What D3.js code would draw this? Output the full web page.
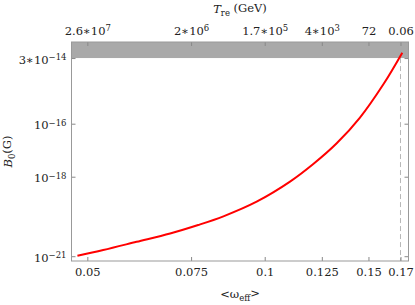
<!DOCTYPE html>
<html>
<head>
<meta charset="utf-8">
<script src="https://cdn.jsdelivr.net/npm/d3@7"></script>
<style>
  body { margin: 0; background: #fff; }
  svg text { font-family: "DejaVu Serif", serif; fill: #222; }
</style>
</head>
<body>
<div id="chart"></div>
<script>
// curve: <omega_eff> and B0 (Gauss)
var omega = [0.0481, 0.0532, 0.0606, 0.0691, 0.0771, 0.0851, 0.0969, 0.1104, 0.1209, 0.1325, 0.1451, 0.1589, 0.1712];
var bField = [1.05e-21, 1.72e-21, 3.5e-21, 7.2e-21, 1.5e-20, 3.2e-20, 1.14e-19, 6.5e-19, 3.0e-18, 1.82e-17, 1.7e-16, 3.0e-15, 4.8e-14];

// bottom axis
var omegaTicks = [0.05, 0.075, 0.1, 0.125, 0.15, 0.17];
var omegaLabels = ["0.05", "0.075", "0.1", "0.125", "0.15", "0.17"];

// top axis (reheating temperature at the same positions)
var treMantissa = ["2.6", "2", "1.7", "4", "72", "0.06"];
var treExponent = ["7", "6", "5", "3", "", ""];

// left axis
var bTicks = [3e-14, 1e-16, 1e-18, 1e-21];
var bMantissa = ["3", "", "", ""];
var bExponent = ["\u221214", "\u221216", "\u221218", "\u221221"];

var bBound = 3e-14;      // excluded region above this
var omegaMax = 0.17;     // dashed line

var margin = {top: 42, right: 6.5, bottom: 44, left: 71.5};
var width = 415 - margin.left - margin.right;
var height = 305 - margin.top - margin.bottom;

var svg = d3.select("#chart").append("svg")
    .attr("width", 415)
    .attr("height", 305)
  .append("g")
    .attr("transform", "translate(" + margin.left + "," + margin.top + ")");

var x = d3.scaleLog()
    .domain([0.0470, 0.1754])
    .range([0, width]);
var y = d3.scaleLog()
    .domain([6.6e-22, 1.21e-13])
    .range([height, 0]);

// shaded region
svg.append("rect")
    .attr("x", 0)
    .attr("y", 0)
    .attr("width", width)
    .attr("height", y(bBound))
    .attr("fill", "#a9a9a9");

// dashed line at omega max
svg.append("line")
    .attr("x1", x(omegaMax)).attr("x2", x(omegaMax))
    .attr("y1", y(bBound)).attr("y2", height)
    .attr("stroke", "#b8b8b8")
    .attr("stroke-width", 1)
    .attr("stroke-dasharray", "5,3");

// helper to write  mantissa*10^exp
function sciLabel(sel, mant, exp) {
  sel.each(function(d, i) {
    var t = d3.select(this).text(null);
    if (exp[i] === "") { t.text(mant[i]); return; }
    if (mant[i] !== "") t.append("tspan").text(mant[i] + "\u2217");
    t.append("tspan").text("10");
    t.append("tspan").attr("dy", "-0.45em").attr("font-size", "8.5px").text(exp[i]);
  });
}

var bottomAxis = svg.append("g")
    .attr("transform", "translate(0," + height + ")")
    .call(d3.axisBottom(x).tickValues(omegaTicks).tickSizeInner(-4).tickSizeOuter(0).tickPadding(7)
      .tickFormat(function(d, i) { return omegaLabels[i]; }));
bottomAxis.selectAll("text").attr("font-size", "11.5px");

var topAxis = svg.append("g")
    .call(d3.axisTop(x).tickValues(omegaTicks).tickSizeInner(-4).tickSizeOuter(0).tickPadding(7));
topAxis.selectAll("text").attr("font-size", "11.5px").call(sciLabel, treMantissa, treExponent);

var leftAxis = svg.append("g")
    .call(d3.axisLeft(y).tickValues(bTicks).tickSizeInner(-4).tickSizeOuter(0).tickPadding(5));
leftAxis.selectAll("text").attr("font-size", "11.5px").attr("dy", "0.45em").call(sciLabel, bMantissa, bExponent);

var rightAxis = svg.append("g")
    .attr("transform", "translate(" + width + ",0)")
    .call(d3.axisRight(y).tickValues(bTicks).tickSizeInner(-4).tickSizeOuter(0).tickFormat(""));

svg.selectAll(".domain").remove();
svg.selectAll(".tick line").attr("stroke", "#888");

// frame
svg.append("rect")
    .attr("width", width)
    .attr("height", height)
    .attr("fill", "none")
    .attr("stroke", "#999")
    .attr("stroke-width", 1);

// the curve
var line = d3.line()
    .curve(d3.curveCatmullRom)
    .x(function(d, i) { return x(omega[i]); })
    .y(function(d, i) { return y(bField[i]); });

svg.append("path")
    .datum(omega)
    .attr("d", line)
    .attr("fill", "none")
    .attr("stroke", "#ff0000")
    .attr("stroke-width", 2);

// axis titles
var xt = svg.append("text")
    .attr("x", width / 2)
    .attr("y", height + 37)
    .attr("text-anchor", "middle")
    .attr("font-size", "11.5px");
xt.append("tspan").text("<\u03c9");
xt.append("tspan").attr("dy", "0.3em").attr("font-size", "8.5px").text("eff");
xt.append("tspan").attr("dy", "-0.3em").text(">");

var tt = svg.append("text")
    .attr("x", width / 2)
    .attr("y", -29)
    .attr("text-anchor", "middle")
    .attr("font-size", "11.5px");
tt.append("tspan").attr("font-style", "italic").text("T");
tt.append("tspan").attr("dy", "0.35em").attr("font-size", "8.5px").text("re");
tt.append("tspan").attr("dy", "-0.35em").text(" (GeV)");

var yt = svg.append("text")
    .attr("transform", "translate(" + (-59.5) + "," + (height / 2) + ") rotate(-90)")
    .attr("text-anchor", "middle")
    .attr("font-size", "11.5px");
yt.append("tspan").attr("font-style", "italic").text("B");
yt.append("tspan").attr("dy", "0.3em").attr("font-size", "8.5px").text("0");
yt.append("tspan").attr("dy", "-0.3em").text("(G)");
</script>
</body>
</html>
